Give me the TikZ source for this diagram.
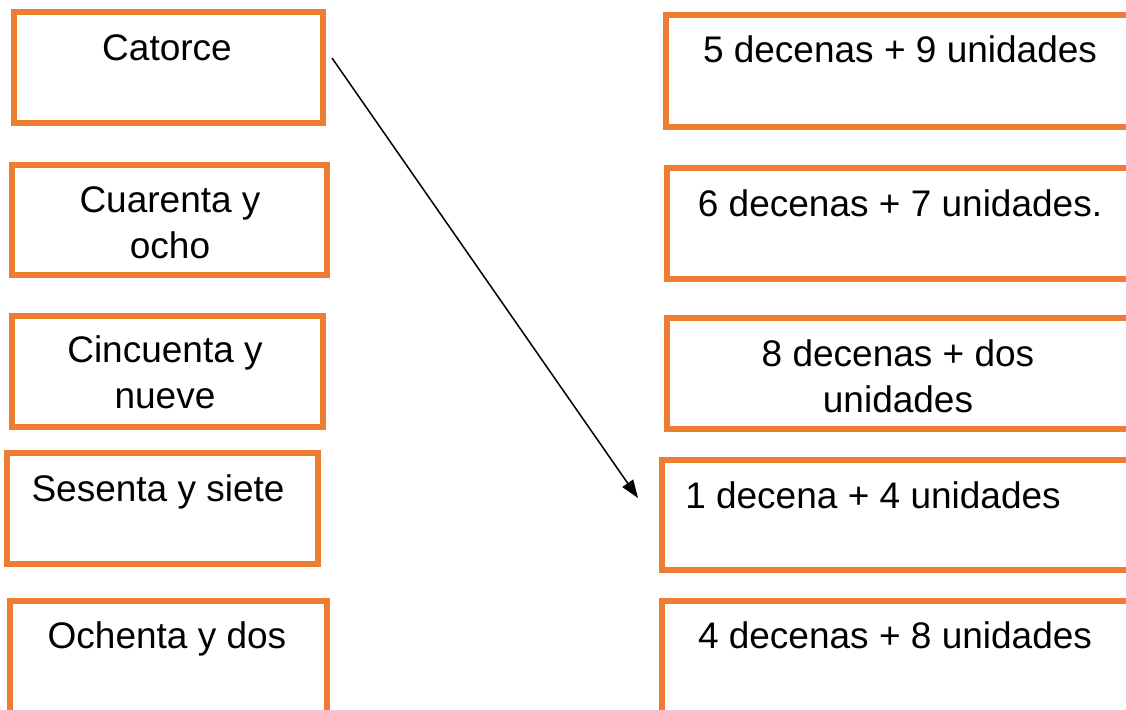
\documentclass[tikz,border=0pt]{standalone}
\usepackage{fontspec}
\setmainfont{Liberation Sans}
\usepackage{tikz}
\usetikzlibrary{arrows.meta}
\definecolor{naranja}{HTML}{ED7D31}

\begin{document}
\begin{tikzpicture}[x=1pt,y=-1pt,
    caja/.style={draw=naranja, line width=6pt, rectangle, inner sep=0pt},
    texto/.style={anchor=base, align=center, inner sep=0pt, font=\fontsize{37}{46}\selectfont}]
      \useasboundingbox (0,0) rectangle (1126,709);
      % numbers in words
      \node (c1) at (168.5,67.5)  [caja, minimum width=309pt, minimum height=111pt] {};
      \node (c2) at (169.5,220)   [caja, minimum width=315pt, minimum height=110pt] {};
      \node (c3) at (167.5,371.5) [caja, minimum width=311pt, minimum height=111pt] {};
      \node (c4) at (162.5,508.5) [caja, minimum width=311pt, minimum height=111pt] {};
      \node (c5) at (168.5,660.5) [caja, minimum width=317pt, minimum height=119pt] {};
      \node (t1) at (167,60)  [texto] {Catorce};
      \node (t2) at (170,258) [texto] {Cuarenta y\\ocho};
      \node (t3) at (165,408) [texto] {Cincuenta y\\nueve};
      \node (t4) at (158,501) [texto] {Sesenta y siete};
      \node (t5) at (167,648) [texto] {Ochenta y dos};
      % tens and units
      \node (d1) at (903,71)    [caja, minimum width=474pt, minimum height=112pt] {};
      \node (d2) at (903.5,223.5) [caja, minimum width=473pt, minimum height=111pt] {};
      \node (d3) at (903.5,373.5) [caja, minimum width=473pt, minimum height=111pt] {};
      \node (d4) at (901,515)   [caja, minimum width=478pt, minimum height=110pt] {};
      \node (d5) at (901,660.5) [caja, minimum width=478pt, minimum height=119pt] {};
      \node (s1) at (900,63)  [texto] {5 decenas + 9 unidades};
      \node (s2) at (900,216) [texto] {6 decenas + 7 unidades.};
      \node (s3) at (898,412) [texto] {8 decenas + dos\\unidades};
      \node (s4) at (873,508) [texto] {1 decena + 4 unidades};
      \node (s5) at (895,648) [texto] {4 decenas + 8 unidades};
      \coordinate (ini) at (332,58);
      \coordinate (fin) at (638,498);
      \draw[line width=1.5pt, -{Triangle[length=18pt,width=13pt]}] (ini) -- (fin);
\end{tikzpicture}
\end{document}
